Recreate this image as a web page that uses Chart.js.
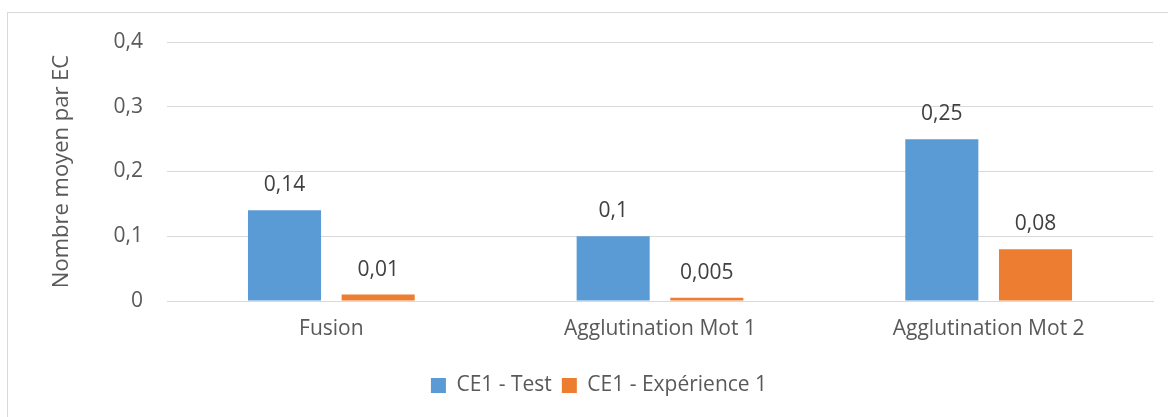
<!DOCTYPE html>
<html><head><meta charset="utf-8">
<script src="https://cdn.jsdelivr.net/npm/chart.js@4.4.0/dist/chart.umd.min.js"></script>
<style>
html,body{margin:0;padding:0;background:#fff;}
#wrap{position:relative;width:1168px;height:417px;overflow:hidden;}
#frame{position:absolute;left:7px;top:12px;width:1200px;height:500px;border:1px solid #D9D9D9;box-sizing:border-box;}
canvas{position:absolute;left:0;top:0;}
</style></head>
<body><div id="wrap"><div id="frame"></div><canvas id="c" width="1168" height="417"></canvas></div>
<script>
const categories = ["Fusion", "Agglutination Mot 1", "Agglutination Mot 2"];
const seriesNames = ["CE1 - Test", "CE1 - Expérience 1"];
const testValues = [0.14, 0.1, 0.25];
const experienceValues = [0.01, 0.005, 0.08];
const yTicks = [0, 0.1, 0.2, 0.3, 0.4];
const yTitle = "Nombre moyen par EC";

const FONT = "'Open Sans', sans-serif";
const TXT = "#595959";
const fr = v => String(v).replace(".", ",");

const labelPlugin = {
  id: "valueLabels",
  afterDatasetsDraw(chart) {
    const ctx = chart.ctx;
    ctx.save();
    ctx.font = "21px " + FONT;
    ctx.fillStyle = "#404040";
    ctx.textAlign = "center";
    ctx.textBaseline = "middle";
    chart.data.datasets.forEach((ds, i) => {
      chart.getDatasetMeta(i).data.forEach((bar, j) => {
        ctx.fillText(fr(ds.data[j]), bar.x, bar.y - 25);
      });
    });
    ctx.restore();
  }
};

new Chart(document.getElementById("c"), {
  type: "bar",
  data: {
    labels: categories,
    datasets: [
      { label: seriesNames[0], data: testValues, backgroundColor: "#5B9BD5", categoryPercentage: 0.57, barPercentage: 0.78 },
      { label: seriesNames[1], data: experienceValues, backgroundColor: "#ED7D31", categoryPercentage: 0.57, barPercentage: 0.78 }
    ]
  },
  options: {
    responsive: false,
    animation: false,
    devicePixelRatio: 1,
    layout: { padding: { left: 45, right: 15, top: 42, bottom: 11 } },
    plugins: {
      tooltip: { enabled: false },
      legend: {
        position: "bottom",
        labels: { font: { family: FONT, size: 21 }, color: TXT, boxWidth: 15, boxHeight: 15, padding: 10 }
      }
    },
    scales: {
      x: {
        grid: { display: false, drawTicks: false },
        border: { display: true, color: "#D9D9D9", width: 1 },
        ticks: { font: { family: FONT, size: 21 }, color: TXT, padding: 15 },
        afterFit(s) { s.height = 64; }
      },
      y: {
        min: 0, max: 0.4,
        afterBuildTicks(s) { s.ticks = yTicks.map(v => ({ value: v })); },
        grid: { color: "#D9D9D9", lineWidth: 1, drawTicks: false },
        border: { display: false },
        ticks: { font: { family: FONT, size: 21 }, color: TXT, padding: 24, callback: v => fr(v) },
        title: { display: true, text: yTitle, font: { family: FONT, size: 22 }, color: TXT },
        afterFit(s) { s.width = 122; }
      }
    }
  },
  plugins: [labelPlugin]
});
</script></body></html>
